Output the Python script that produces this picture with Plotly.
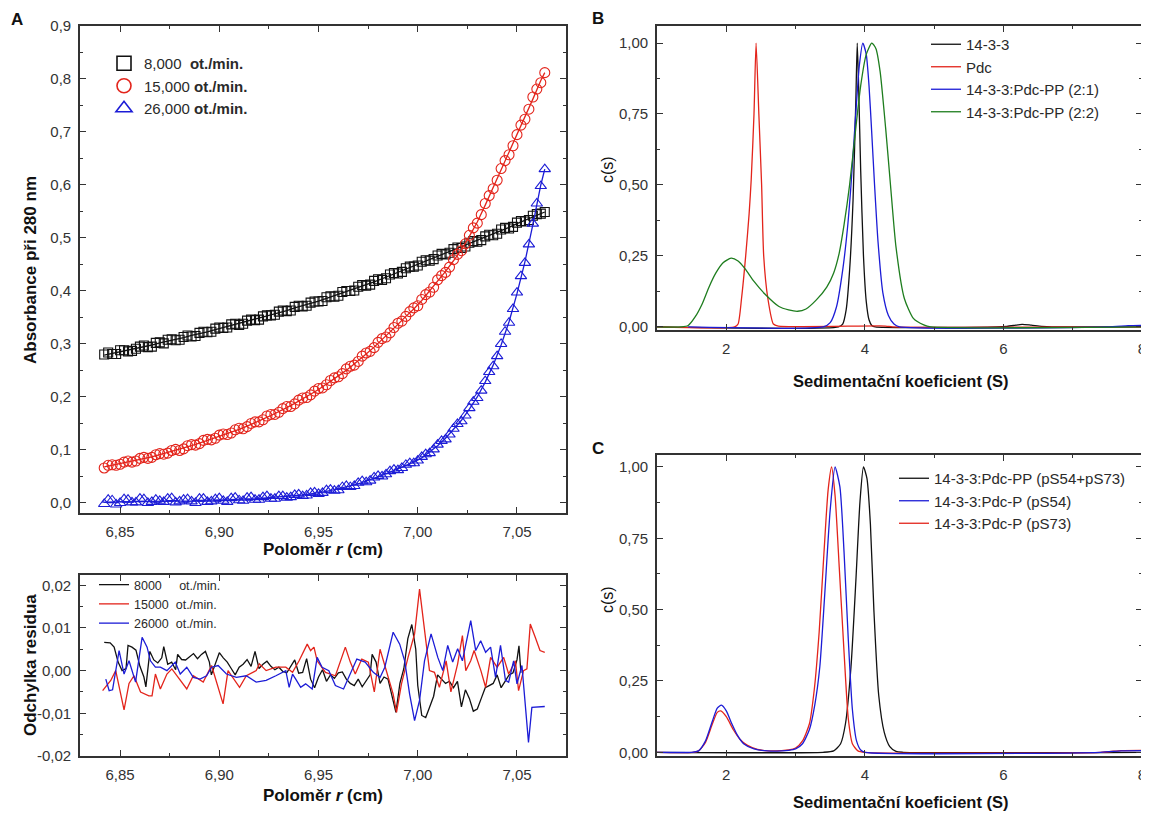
import plotly.graph_objects as go

# the page body has an 8 px margin, so the figure is drawn 8 px smaller and
# every reference pixel position is shifted by OFF when converted to paper units
OFF = 8
W, H = 1149 - OFF, 814 - OFF
FONT = "Arial, Liberation Sans, sans-serif"
INK = "#2a2a2a"
BLACK, RED, BLUE, GREEN = "#111111", "#e3241b", "#1c1cd6", "#1e7d1e"

# ---------------- panel A: absorbance vs radius ----------------
radius = [6.842, 6.846, 6.850, 6.854, 6.858, 6.862, 6.866, 6.870, 6.874, 6.878,
          6.882, 6.886, 6.890, 6.894, 6.898, 6.902, 6.906, 6.910, 6.914, 6.918,
          6.922, 6.926, 6.930, 6.934, 6.938, 6.942, 6.946, 6.950, 6.954, 6.958,
          6.962, 6.966, 6.970, 6.974, 6.978, 6.982, 6.986, 6.990, 6.994, 6.998,
          7.002, 7.006, 7.010, 7.014, 7.018, 7.022, 7.026, 7.030, 7.034, 7.038,
          7.042, 7.046, 7.050, 7.054, 7.058, 7.062, 7.064]

abs_8000 = [.280, .281, .288, .286, .291, .297, .295, .303, .308, .307, .313, .314, .321, .322,
            .329, .330, .337, .336, .344, .345, .352, .354, .361, .362, .370, .371, .378, .380,
            .388, .389, .398, .400, .408, .410, .419, .421, .431, .433, .443, .446, .455, .457,
            .467, .469, .479, .481, .491, .493, .503, .505, .516, .518, .529, .531, .542, .546, .549]
fit_8000 = [.279, .282, .285, .288, .291, .295, .298, .302, .305, .309, .312, .316, .319, .323,
            .327, .331, .335, .338, .342, .346, .350, .355, .359, .363, .368, .372, .376, .381,
            .386, .391, .396, .401, .406, .412, .417, .423, .429, .435, .441, .447, .453, .459,
            .465, .471, .477, .483, .489, .495, .501, .507, .514, .520, .527, .533, .540, .546, .549]

abs_15000 = [.066, .072, .073, .079, .079, .086, .086, .093, .094, .101, .102, .110, .112, .120,
             .122, .130, .132, .141, .144, .153, .157, .167, .171, .182, .187, .198, .204, .216,
             .223, .236, .244, .258, .267, .283, .293, .310, .321, .339, .352, .368, .384, .398,
             .421, .435, .459, .476, .505, .528, .565, .593, .631, .657, .695, .724, .766, .793, .812]
fit_15000 = [.068, .071, .074, .077, .080, .084, .087, .091, .095, .099, .103, .108, .113, .118,
             .123, .128, .133, .139, .145, .151, .158, .165, .172, .180, .188, .196, .205, .214,
             .224, .234, .245, .256, .268, .281, .294, .308, .322, .337, .352, .366, .382, .400,
             .418, .437, .457, .478, .503, .530, .562, .595, .628, .660, .693, .728, .762, .797, .812]

abs_26000 = [-.002, .005, .000, .006, .001, .007, .002, .004, .008, .001, .006, .003, .008, .002,
             .007, .004, .009, .005, .010, .006, .011, .008, .013, .010, .015, .013, .019, .017,
             .024, .023, .030, .030, .038, .039, .048, .050, .060, .062, .072, .075, .087, .094,
             .110, .120, .140, .154, .179, .198, .230, .258, .300, .340, .397, .453, .527, .598, .630]
fit_26000 = [.001, .002, .002, .002, .003, .003, .003, .003, .004, .004, .004, .004, .005, .005,
             .005, .006, .006, .007, .007, .008, .009, .010, .011, .012, .013, .015, .017, .019,
             .022, .025, .028, .032, .036, .041, .046, .052, .058, .064, .070, .077, .085, .096,
             .108, .122, .138, .156, .177, .200, .228, .260, .298, .342, .395, .455, .525, .600, .630]

# second interleaved scan of points (the data are denser than the fit grid)
radius_b = [6.844, 6.848, 6.852, 6.856, 6.860, 6.864, 6.868, 6.872, 6.876, 6.880, 6.884,
            6.888, 6.892, 6.896, 6.900, 6.904, 6.908, 6.912, 6.916, 6.920, 6.924, 6.928,
            6.932, 6.936, 6.940, 6.944, 6.948, 6.952, 6.956, 6.960, 6.964, 6.968, 6.972,
            6.976, 6.980, 6.984, 6.988, 6.992, 6.996, 7.000, 7.004, 7.008, 7.012, 7.016,
            7.020, 7.024, 7.028, 7.032, 7.036, 7.040, 7.044, 7.048, 7.052, 7.056, 7.060]
abs_8000_b = [.284, .281, .288, .287, .295, .294, .302, .301, .309, .308, .316,
              .315, .323, .323, .331, .331, .338, .338, .346, .346, .354, .355,
              .363, .363, .372, .372, .380, .381, .390, .391, .400, .401, .411,
              .412, .422, .424, .434, .436, .446, .448, .458, .460, .470, .472,
              .482, .484, .494, .496, .506, .508, .519, .521, .532, .534, .545]
abs_15000_b = [.071, .071, .077, .077, .084, .084, .091, .092, .099, .099, .108,
               .109, .118, .119, .128, .129, .138, .140, .150, .153, .164, .167,
               .178, .182, .194, .199, .211, .217, .231, .238, .253, .260, .277,
               .286, .303, .313, .331, .343, .361, .372, .393, .407, .429, .445,
               .469, .489, .519, .544, .580, .609, .646, .674, .713, .743, .781]
abs_26000_b = [.006, -.003, .007, .001, .008, .000, .006, .002, .009, .003, .007,
               .000, .008, .003, .009, .002, .010, .004, .011, .006, .013, .008,
               .013, .011, .016, .014, .020, .019, .025, .024, .032, .032, .041,
               .042, .051, .054, .063, .066, .075, .080, .092, .101, .117, .129,
               .149, .165, .191, .212, .247, .277, .323, .366, .428, .488, .565]

# ---------------- panel A: residuals (x 1e-3) ----------------
res_r_8000 = [6.842, 6.845, 6.847, 6.849, 6.851, 6.853, 6.854, 6.856, 6.858, 6.860, 6.862, 6.863,
              6.865, 6.867, 6.869, 6.871, 6.872, 6.874, 6.876, 6.878, 6.879, 6.881, 6.883, 6.885,
              6.887, 6.889, 6.891, 6.893, 6.895, 6.896, 6.898, 6.900, 6.902, 6.904, 6.906, 6.908,
              6.910, 6.912, 6.914, 6.916, 6.918, 6.920, 6.922, 6.924, 6.926, 6.928, 6.930, 6.932,
              6.934, 6.936, 6.938, 6.940, 6.942, 6.944, 6.946, 6.948, 6.950, 6.952, 6.954, 6.956,
              6.958, 6.960, 6.962, 6.964, 6.966, 6.968, 6.970, 6.972, 6.974, 6.976, 6.977, 6.979,
              6.981, 6.983, 6.985, 6.987, 6.989, 6.991, 6.993, 6.995, 6.997, 6.999, 7.000, 7.002,
              7.004, 7.006, 7.008, 7.010, 7.012, 7.014, 7.016, 7.018, 7.020, 7.022, 7.024, 7.026,
              7.028, 7.030, 7.032, 7.034, 7.036, 7.038, 7.040, 7.042, 7.044, 7.046, 7.048, 7.050,
              7.051, 7.052]
res_8000 = [6.6, 6.5, 5.5, 2.0, 0.0, 0.5, 5.9, 5.5, 4.8, 1.0, -1.5, -3.8,
            4.5, 2.5, 1.8, 3.0, 5.6, 1.5, 2.0, 0.2, 3.8, 2.6, 2.5, 3.3,
            4.0, 2.8, 3.8, 4.5, 2.0, -1.0, 1.5, 4.2, 3.0, 2.0, 0.5, -1.0,
            0.8, 1.5, 2.6, 1.0, 4.5, 0.5, 1.5, 2.2, 1.0, 0.2, 0.8, -0.2,
            -0.5, 1.0, 2.5, -0.6, -0.4, 2.8, -2.0, -4.0, -1.5, 0.2, -2.5, -1.0,
            -1.8, -0.5, -0.3, -2.0, -3.0, -3.5, -2.0, -3.8, -2.5, -1.0, 3.8, 2.0,
            -3.0, -1.5, -2.0, -6.0, -9.8, -3.0, 0.5, 7.5, 10.8, 5.0, -3.5, -10.5,
            -11.0, -8.5, -6.0, -1.0, -2.0, -3.0, -2.5, -4.0, -2.5, -8.5, -4.5, -6.5,
            -9.5, -9.0, -6.5, -4.0, -3.5, -3.0, -1.0, -4.0, -2.5, -1.0, -0.5, 2.5,
            5.8, -0.5]

res_r_15000 = [6.8412, 6.8453, 6.8478, 6.8520, 6.8545, 6.8570, 6.8603, 6.8645, 6.8661, 6.8678,
               6.8703, 6.8736, 6.8761, 6.8803, 6.8836, 6.8869, 6.8919, 6.8961, 6.9019, 6.9044,
               6.9102, 6.9136, 6.9186, 6.9202, 6.9236, 6.9285, 6.9335, 6.9369, 6.9402, 6.9443,
               6.9460, 6.9477, 6.9493, 6.9535, 6.9585, 6.9635, 6.9660, 6.9685, 6.9718, 6.9751,
               6.9781, 6.9810, 6.9843, 6.9876, 6.9893, 6.9918, 6.9951, 6.9984, 7.0009, 7.0034,
               7.0059, 7.0084, 7.0109, 7.0143, 7.0167, 7.0201, 7.0225, 7.0242, 7.0267, 7.0284,
               7.0318, 7.0342, 7.0367, 7.0400, 7.0433, 7.0458, 7.0492, 7.0508, 7.0533, 7.0550,
               7.0567, 7.0592, 7.0616, 7.0640]
res_15000 = [-4.7, -2.3, 0.0, -9.2, -3.0, -1.2, -5.0, -5.9, -5.9, -0.8,
             -4.3, -0.8, 0.4, -2.3, -4.3, -1.2, -2.7, 1.2, -7.8, 0.0,
             -3.9, -1.2, 0.0, 1.6, 0.0, 0.8, 0.8, -0.4, 2.3, 6.2,
             4.7, 5.5, 2.3, -0.4, -1.2, 5.5, 2.0, -0.8, 2.7, 2.0,
             -5.0, 5.0, 0.0, -5.5, -9.8, -3.1, 3.1, 8.6, 19.1, 10.2,
             0.0, -0.4, -3.9, 2.3, -5.0, 1.6, 8.2, 0.0, 2.3, 4.7,
             0.0, -3.9, 3.1, 0.8, 3.1, -0.8, 2.3, -4.7, 0.0, 0.4,
             10.9, 7.8, 4.7, 4.3]

res_r_26000 = [6.8428, 6.8445, 6.8462, 6.8495, 6.8520, 6.8545, 6.8578, 6.8611, 6.8636, 6.8653,
               6.8678, 6.8703, 6.8736, 6.8778, 6.8803, 6.8836, 6.8869, 6.8903, 6.8936, 6.8961,
               6.8994, 6.9036, 6.9086, 6.9136, 6.9186, 6.9236, 6.9285, 6.9335, 6.9352, 6.9369,
               6.9385, 6.9410, 6.9435, 6.9468, 6.9493, 6.9518, 6.9552, 6.9585, 6.9626, 6.9668,
               6.9693, 6.9735, 6.9776, 6.9810, 6.9834, 6.9876, 6.9909, 6.9934, 6.9959, 6.9984,
               7.0009, 7.0034, 7.0067, 7.0101, 7.0126, 7.0151, 7.0176, 7.0201, 7.0225, 7.0267,
               7.0292, 7.0317, 7.0342, 7.0367, 7.0392, 7.0417, 7.0442, 7.0458, 7.0483, 7.0500,
               7.0525, 7.0558, 7.0575, 7.0640]
res_26000 = [-2.0, -4.7, -4.5, 4.7, -0.8, 2.3, -2.7, 7.8, 5.5, 2.3,
             0.8, 0.8, 0.0, 2.0, -0.8, 0.8, -1.6, -2.0, -1.2, 0.8,
             1.2, -0.8, -1.6, -1.2, -2.7, -2.3, -1.2, 0.0, -3.9, -0.8,
             -2.0, -3.9, -3.1, -4.3, 3.1, 0.8, 0.0, -3.5, -4.3, 0.0,
             2.7, 2.0, -0.4, -1.6, 0.8, 9.0, 6.2, 2.3, -5.5, -11.7,
             -7.0, 2.3, 8.6, 3.1, 0.0, 5.9, 2.0, 5.1, 2.3, 11.7,
             4.7, 7.0, 4.3, 5.5, -1.6, 5.9, -2.3, -2.7, 2.3, -3.1,
             1.2, -16.8, -8.6, -8.4]

# ---------------- panel B: c(s) ----------------
sB_1433 = [1.0, 3.62, 3.68, 3.73, 3.78, 3.83, 3.87, 3.89, 3.91, 3.94, 3.98, 4.02, 4.06, 4.10, 4.15,
           5.90, 6.05, 6.15, 6.27, 6.40, 6.55, 6.70, 8.0]
cB_1433 = [0, 0, 0.01, 0.06, 0.2, 0.45, 0.8, 1.0, 0.85, 0.55, 0.25, 0.09, 0.025, 0.005, 0,
           0, 0.002, 0.005, 0.009, 0.006, 0.002, 0, 0]
sB_pdc = [1.0, 2.12, 2.17, 2.22, 2.28, 2.33, 2.36, 2.40, 2.43, 2.47, 2.51, 2.54, 2.60, 2.68, 2.75,
          4.30, 4.40, 8.0]
cB_pdc = [0, 0, 0.01, 0.1, 0.25, 0.4, 0.52, 0.75, 1.0, 0.75, 0.5, 0.25, 0.1, 0.01, 0.003,
          0.003, 0, 0]
sB_21 = [1.45, 3.40, 3.50, 3.59, 3.68, 3.75, 3.80, 3.86, 3.92, 3.97, 4.02, 4.06, 4.10, 4.14, 4.19,
         4.26, 4.34, 4.42, 4.50, 7.50, 7.80, 8.0]
cB_21 = [0, 0, 0.015, 0.07, 0.2, 0.35, 0.5, 0.72, 0.92, 1.0, 0.96, 0.85, 0.68, 0.5, 0.3,
         0.12, 0.04, 0.01, 0, 0, 0.004, 0.005]
sB_22 = [1.0, 1.35, 1.45, 1.55, 1.65, 1.75, 1.85, 1.95, 2.07, 2.17, 2.27, 2.40, 2.56, 2.76, 2.90,
         3.03, 3.15, 3.30, 3.45, 3.55, 3.63, 3.70, 3.78, 3.86, 3.94, 4.02, 4.10, 4.16, 4.22, 4.30,
         4.37, 4.45, 4.57, 4.70, 4.85, 4.95, 8.0]
cB_22 = [0, 0, 0.005, 0.035, 0.08, 0.14, 0.19, 0.225, 0.242, 0.232, 0.205, 0.16, 0.115, 0.072, 0.06,
         0.055, 0.063, 0.095, 0.14, 0.19, 0.26, 0.36, 0.5, 0.68, 0.85, 0.96, 1.0, 0.98, 0.9, 0.7,
         0.5, 0.28, 0.1, 0.03, 0.007, 0, 0]

# ---------------- panel C: c(s) ----------------
sC_pp = [1.0, 3.40, 3.55, 3.65, 3.72, 3.80, 3.87, 3.93, 3.98, 4.03, 4.08, 4.13, 4.20, 4.28, 4.36,
         4.45, 4.55, 8.0]
cC_pp = [0, 0, 0.005, 0.03, 0.1, 0.3, 0.6, 0.88, 1.0, 0.96, 0.8, 0.5, 0.2, 0.07, 0.02,
         0.003, 0, 0]
sC_54 = [1.0, 1.5, 1.6, 1.7, 1.8, 1.87, 1.93, 2.0, 2.08, 2.16, 2.25, 2.4, 2.6, 2.8, 2.9,
         3.0, 3.1, 3.2, 3.28, 3.35, 3.42, 3.50, 3.57, 3.64, 3.70, 3.76, 3.82, 3.88, 3.94, 4.0,
         7.4, 7.7, 8.0]
cC_54 = [0, 0, 0.005, 0.04, 0.11, 0.155, 0.165, 0.145, 0.1, 0.06, 0.03, 0.012, 0.005, 0.005, 0.007,
         0.012, 0.03, 0.08, 0.17, 0.3, 0.55, 0.85, 1.0, 0.93, 0.7, 0.4, 0.15, 0.04, 0.008, 0,
         0, 0.005, 0.006]
sC_73 = [1.0, 1.52, 1.6, 1.7, 1.8, 1.87, 1.92, 2.0, 2.1, 2.2, 2.3, 2.45, 2.6, 2.8, 2.9,
         3.0, 3.1, 3.2, 3.27, 3.34, 3.41, 3.47, 3.52, 3.57, 3.63, 3.70, 3.76, 3.82, 3.90, 4.0,
         7.4, 7.7, 8.0]
cC_73 = [0, 0, 0.005, 0.035, 0.1, 0.14, 0.145, 0.125, 0.08, 0.045, 0.025, 0.01, 0.005, 0.006, 0.008,
         0.015, 0.04, 0.1, 0.22, 0.42, 0.7, 0.92, 1.0, 0.9, 0.65, 0.35, 0.12, 0.03, 0.005, 0,
         0, 0.006, 0.007]

s_ticks = [2, 4, 6, 8]


def px_x(px):
    return (px - OFF) / W


def px_y(py):
    return 1 - (py - OFF) / H


def dom_x(a, b):
    return [px_x(a), px_x(b)]


def dom_y(top, bottom):
    return [px_y(bottom), px_y(top)]


def axis(domain, anchor, rng, dtick, tick0, minor, fmt=None, **kw):
    d = dict(domain=domain, anchor=anchor, range=rng, dtick=dtick, tick0=tick0,
             automargin=False,
             showline=True, linecolor="#333", linewidth=1.6, mirror="allticks",
             ticks="inside", ticklen=6, tickwidth=1.3, tickcolor="#333",
             minor=dict(dtick=minor, tick0=tick0, ticks="inside", ticklen=3.5,
                        tickwidth=1.1, tickcolor="#333"),
             showgrid=False, zeroline=False, ticklabelstandoff=4,
             ticklabeloverflow="allow",
             tickfont=dict(family=FONT, size=15, color="#333"))
    if fmt:
        d["tickformat"] = fmt
    d.update(kw)
    return d


fig = go.Figure()

# panel A top
for ys, ys_b, fit, col, sym, sz, nm in [
        (abs_8000, abs_8000_b, fit_8000, BLACK, "square-open", 9, "8,000&nbsp;&nbsp;<b>ot./min.</b>"),
        (abs_15000, abs_15000_b, fit_15000, RED, "circle-open", 10, "15,000 <b>ot./min.</b>"),
        (abs_26000, abs_26000_b, fit_26000, BLUE, "triangle-up-open", 10, "26,000 <b>ot./min.</b>")]:
    fig.add_trace(go.Scatter(x=radius + radius_b, y=ys + ys_b, mode="markers", showlegend=False,
                             marker=dict(symbol=sym, size=sz, color=col, line=dict(width=1.1, color=col)),
                             xaxis="x", yaxis="y"))
    fig.add_trace(go.Scatter(x=radius, y=fit, mode="lines", showlegend=False,
                             line=dict(color=col, width=1.3), xaxis="x", yaxis="y"))
    fig.add_trace(go.Scatter(x=[None], y=[None], mode="markers", name=nm, legend="legend",
                             marker=dict(symbol=sym, size=14, color=col, line=dict(width=1.6, color=col)),
                             xaxis="x", yaxis="y"))

# residuals
for rx, ry, col, nm in [
        (res_r_8000, res_8000, BLACK, "8000&nbsp;&nbsp;&nbsp;&nbsp;&nbsp;ot./min."),
        (res_r_15000, res_15000, RED, "15000&nbsp;&nbsp;ot./min."),
        (res_r_26000, res_26000, BLUE, "26000&nbsp;&nbsp;ot./min.")]:
    fig.add_trace(go.Scatter(x=rx, y=[v / 1000 for v in ry], mode="lines", name=nm, legend="legend2",
                             line=dict(color=col, width=1.3), xaxis="x2", yaxis="y2"))

# panel B
for sx, cy, col, nm in [(sB_1433, cB_1433, BLACK, "14-3-3"),
                        (sB_pdc, cB_pdc, RED, "Pdc"),
                        (sB_21, cB_21, BLUE, "14-3-3:Pdc-PP (2:1)"),
                        (sB_22, cB_22, GREEN, "14-3-3:Pdc-PP (2:2)")]:
    fig.add_trace(go.Scatter(x=sx, y=cy, mode="lines", name=nm, legend="legend3",
                             line=dict(color=col, width=1.3, shape="spline", smoothing=0.6),
                             xaxis="x3", yaxis="y3"))

# panel C (blue drawn last, but listed second in the legend)
for sx, cy, col, nm, rank in [(sC_pp, cC_pp, BLACK, "14-3-3:Pdc-PP (pS54+pS73)", 1),
                              (sC_73, cC_73, RED, "14-3-3:Pdc-P (pS73)", 3),
                              (sC_54, cC_54, BLUE, "14-3-3:Pdc-P (pS54)", 2)]:
    fig.add_trace(go.Scatter(x=sx, y=cy, mode="lines", name=nm, legend="legend4", legendrank=rank,
                             line=dict(color=col, width=1.3, shape="spline", smoothing=0.6),
                             xaxis="x4", yaxis="y4"))

legend_base = dict(bgcolor="rgba(0,0,0,0)", borderwidth=0, xanchor="left", yanchor="top",
                   tracegroupgap=0, itemclick=False)

fig.update_layout(
    width=W, height=H, margin=dict(l=0, r=0, t=0, b=0, autoexpand=False),
    paper_bgcolor="white", plot_bgcolor="white", separators=", ",
    font=dict(family=FONT, color=INK),
    xaxis=axis(dom_x(80, 566), "y", [6.8298, 7.0747], 0.05, 6.85, 0.025, ".2f"),
    yaxis=axis(dom_y(26, 513), "x", [-0.019, 0.9], 0.1, 0, 0.05, ".1f"),
    xaxis2=axis(dom_x(80, 566), "y2", [6.8298, 7.0747], 0.05, 6.85, 0.025, ".2f"),
    yaxis2=axis(dom_y(575, 756), "x2", [-0.02, 0.0224], 0.01, 0, 0.005, ".2f",
                tickmode="array", tickvals=[-0.02, -0.01, 0, 0.01, 0.02],
                ticktext=["-0,02", "-0,01", "0,00", "0,01", "0,02"]),
    xaxis3=axis(dom_x(657, 1142), "y3", [1, 8.0], 2, 0, 1, "d",
                tickmode="array", tickvals=s_ticks),
    yaxis3=axis(dom_y(26, 330), "x3", [-0.011, 1.06], 0.25, 0, 0.125, ".2f"),
    xaxis4=axis(dom_x(657, 1142), "y4", [1, 8.0], 2, 0, 1, "d",
                tickmode="array", tickvals=s_ticks),
    yaxis4=axis(dom_y(455, 756), "x4", [-0.013, 1.042], 0.25, 0, 0.125, ".2f"),
    legend=dict(legend_base, x=px_x(104), y=px_y(47), font=dict(family=FONT, size=15, color=INK)),
    legend2=dict(legend_base, x=px_x(94), y=px_y(570), font=dict(family=FONT, size=12.5, color=INK)),
    legend3=dict(legend_base, x=px_x(926), y=px_y(28), font=dict(family=FONT, size=15, color=INK)),
    legend4=dict(legend_base, x=px_x(894), y=px_y(462), font=dict(family=FONT, size=15, color=INK)),
)

# axis titles and panel letters (the "A" hangs from the top edge of the figure)
fig.add_annotation(text="<b>A</b>", x=px_x(17), y=1, xref="paper", yref="paper",
                   xanchor="center", yanchor="top", showarrow=False,
                   font=dict(family=FONT, size=17, color="#111"))
notes = [
    ("<b>B</b>", 598, 19, 0, 17),
    ("<b>C</b>", 598, 448, 0, 17),
    ("<b>Absorbance při 280 nm</b>", 30, 270, -90, 17),
    ("<b>Poloměr <i>r</i> (cm)</b>", 323, 549, 0, 17),
    ("<b>Odchylka residua</b>", 30, 665, -90, 17),
    ("<b>Poloměr <i>r</i> (cm)</b>", 323, 795, 0, 17),
    ("c(s)", 607, 170, -90, 16),
    ("c(s)", 607, 600, -90, 16),
    ("<b>Sedimentační koeficient (S)</b>", 900, 381, 0, 16.5),
    ("<b>Sedimentační koeficient (S)</b>", 900, 802, 0, 16.5),
]
for txt, px, py, ang, sz in notes:
    fig.add_annotation(text=txt, x=px_x(px), y=px_y(py), xref="paper", yref="paper",
                       xanchor="center", yanchor="middle", showarrow=False, textangle=ang,
                       font=dict(family=FONT, size=sz, color="#111"))

fig.write_html("out.html")
